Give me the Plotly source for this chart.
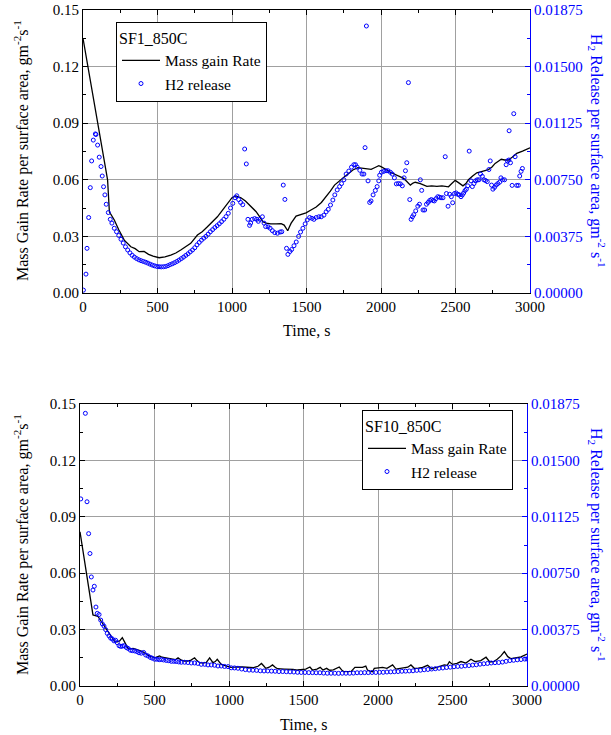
import plotly.graph_objects as go

# ---------------- data: SF1_850C (top) ----------------
sf1_mass_t = [0, 165, 177, 210, 240, 277, 321, 350, 377, 410, 440, 470, 511, 550, 589, 623, 656, 690, 723, 768,
              800, 835, 870, 902, 935, 969, 1000, 1027, 1060, 1090, 1117, 1140, 1162, 1185, 1207, 1229, 1260, 1296,
              1330, 1350, 1363, 1374, 1385, 1397, 1430, 1460, 1497, 1530, 1565, 1600, 1632, 1660, 1688, 1720, 1755,
              1785, 1811, 1845, 1878, 1910, 1934, 1960, 1985, 2000, 2018, 2040, 2063, 2100, 2152, 2175, 2197, 2215,
              2230, 2264, 2308, 2340, 2375, 2409, 2453, 2475, 2498, 2520, 2550, 2570, 2587, 2615, 2643, 2680, 2721,
              2745, 2766, 2790, 2807, 2830, 2855, 2880, 2911, 2950, 2975, 3000]
sf1_mass_v = [0.135, 0.060, 0.043, 0.0387, 0.0335, 0.028, 0.0245, 0.0235, 0.0219, 0.0220, 0.0205, 0.0195, 0.0187,
              0.0192, 0.0201, 0.0212, 0.0228, 0.0245, 0.0263, 0.0307, 0.0325, 0.0351, 0.0378, 0.0404, 0.0438, 0.0475,
              0.0505, 0.0515, 0.0505, 0.0488, 0.0466, 0.0450, 0.0431, 0.0405, 0.0378, 0.0370, 0.0366, 0.0366, 0.0368,
              0.0360, 0.0343, 0.0330, 0.0350, 0.0370, 0.0408, 0.0415, 0.0425, 0.0440, 0.0456, 0.0480, 0.0510, 0.0540,
              0.0572, 0.0595, 0.0616, 0.0635, 0.0652, 0.0664, 0.0660, 0.0655, 0.0655, 0.0665, 0.0675, 0.0670, 0.0660,
              0.0652, 0.0640, 0.0625, 0.0608, 0.0590, 0.0572, 0.0583, 0.0587, 0.0580, 0.0565, 0.0568, 0.0565, 0.0568,
              0.0563, 0.0580, 0.0597, 0.0585, 0.0568, 0.0580, 0.0600, 0.0620, 0.0637, 0.0645, 0.0654, 0.0668, 0.0687,
              0.0700, 0.0709, 0.0705, 0.0705, 0.0720, 0.0740, 0.0752, 0.0760, 0.0770]

sf1_h2_t = [3, 20, 27, 38, 49, 58, 69, 83, 87, 98, 109, 121, 129, 138, 147, 156, 170, 183, 194,
            210, 225, 240, 255, 270, 285, 300, 315, 330, 345, 360, 375, 390, 405, 420, 435, 450, 465, 480, 495,
            510, 525, 540, 555, 570, 585, 600, 615, 630, 645, 660, 675, 690, 705, 720, 735, 750, 765, 780, 795,
            810, 825, 840, 855, 870, 885, 900, 915, 930, 945, 960, 975, 990, 1005, 1020, 1032, 1045, 1058, 1072,
            1085, 1096, 1107, 1118, 1125, 1136, 1152, 1166, 1177, 1188, 1204, 1215, 1226, 1242, 1256, 1271, 1287,
            1305, 1323, 1334, 1344, 1355, 1366, 1375, 1389, 1400, 1416, 1431, 1447, 1460, 1476, 1491, 1505, 1521,
            1536, 1550, 1565, 1583, 1599, 1617, 1632, 1646, 1661, 1677, 1690, 1706, 1722, 1735, 1751, 1766, 1784,
            1802, 1818, 1829, 1840, 1858, 1873, 1885, 1893, 1902, 1913, 1924, 1933, 1947, 1962, 1974, 1985, 1991,
            2003, 2018, 2034, 2047, 2063, 2076, 2090, 2103, 2117, 2130, 2143, 2155, 2164, 2173, 2184, 2193, 2202,
            2211, 2220, 2233, 2247, 2258, 2264, 2273, 2282, 2293, 2305, 2316, 2327, 2338, 2349, 2358, 2369, 2381,
            2392, 2403, 2416, 2431, 2439, 2450, 2461, 2472, 2481, 2493, 2504, 2515, 2526, 2537, 2546, 2555, 2564,
            2573, 2582, 2592, 2604, 2613, 2624, 2635, 2646, 2657, 2668, 2680, 2691, 2702, 2713, 2724, 2733, 2742,
            2751, 2762, 2773, 2784, 2796, 2805, 2816, 2829, 2840, 2849, 2858, 2860, 2869, 2880, 2891, 2900, 2911,
            2922, 2931, 2940, 2949]
sf1_h2_v = [0.00019, 0.00125, 0.00296, 0.00500, 0.00698, 0.00875, 0.01013, 0.01054, 0.01050, 0.00980, 0.00900,
            0.00838, 0.00775, 0.00704, 0.00650, 0.00588, 0.00533, 0.00488, 0.00463,
            0.00429, 0.00406, 0.00381, 0.00356, 0.00331, 0.00306, 0.00285, 0.00266, 0.00250, 0.00238, 0.00228,
            0.00220, 0.00214, 0.00209, 0.00204, 0.00198, 0.00191, 0.00185, 0.00180, 0.00176, 0.00174, 0.00173,
            0.00174, 0.00176, 0.00181, 0.00188, 0.00194, 0.00201, 0.00209, 0.00218, 0.00228, 0.00238, 0.00249,
            0.00260, 0.00273, 0.00285, 0.00300, 0.00319, 0.00335, 0.00350, 0.00363, 0.00375, 0.00390, 0.00406,
            0.00420, 0.00434, 0.00446, 0.00459, 0.00473, 0.00488, 0.00506, 0.00528, 0.00563, 0.00594, 0.00631,
            0.00644, 0.00619, 0.00600, 0.00585,
            0.00954, 0.00855, 0.00488, 0.00448, 0.00463, 0.00488, 0.00493, 0.00488, 0.00475, 0.00488, 0.00505,
            0.00463, 0.00440, 0.00438, 0.00429, 0.00413, 0.00400, 0.00396, 0.00404, 0.00406, 0.00715, 0.00620,
            0.00296, 0.00256, 0.00275, 0.00288, 0.00313, 0.00338, 0.00375, 0.00404, 0.00429, 0.00458, 0.00484,
            0.00500, 0.00495, 0.00488, 0.00500, 0.00505, 0.00505, 0.00516, 0.00538, 0.00554, 0.00583, 0.00616,
            0.00650, 0.00683, 0.00705, 0.00725, 0.00750, 0.00788, 0.00808, 0.00834, 0.00850, 0.00850, 0.00834,
            0.00813, 0.00788, 0.00788, 0.00963, 0.01769, 0.00743, 0.00600, 0.00610, 0.00650, 0.00679, 0.00705,
            0.00743, 0.00780, 0.00800, 0.00806, 0.00810, 0.00810, 0.00800, 0.00788, 0.00763, 0.00723, 0.00725,
            0.00723, 0.00710, 0.00763, 0.00810, 0.00863, 0.01394, 0.00619, 0.00488, 0.00505, 0.00519, 0.00544,
            0.00575, 0.00588, 0.00750, 0.00680, 0.00550, 0.00550, 0.00588, 0.00600, 0.00613, 0.00619, 0.00613,
            0.00610, 0.00625, 0.00638, 0.00635, 0.00631, 0.00631, 0.00903, 0.00659, 0.00575, 0.00654, 0.00638,
            0.00598, 0.00659, 0.00663, 0.00654, 0.00650, 0.00638, 0.00650, 0.00663, 0.00679, 0.00688, 0.00710,
            0.00940, 0.00743, 0.00705, 0.00725, 0.00743, 0.00750, 0.00750, 0.00788, 0.00773, 0.00750, 0.00745,
            0.00738, 0.00818, 0.00875, 0.00715, 0.00688, 0.00700, 0.00715, 0.00725, 0.00734, 0.00763, 0.00750,
            0.00750, 0.00850, 0.00875, 0.00881, 0.01075, 0.00863, 0.00713, 0.01188, 0.00903, 0.00713, 0.00713,
            0.00775, 0.00806, 0.00825]

# ---------------- data: SF10_850C (bottom) ----------------
sf10_mass_t = [0, 87, 121, 154, 188, 233, 250, 266, 284, 300, 322, 340, 356, 378, 400, 420, 434, 467, 501, 520,
               534, 550, 568, 590, 613, 640, 658, 680, 700, 724, 745, 769, 785, 803, 825, 848, 870, 892, 908, 921,
               948, 970, 993, 1012, 1037, 1056, 1090, 1135, 1165, 1195, 1218, 1235, 1247, 1270, 1292, 1310, 1325,
               1370, 1404, 1430, 1460, 1490, 1515, 1543, 1560, 1590, 1612, 1630, 1655, 1675, 1700, 1740, 1760, 1773,
               1800, 1820, 1845, 1870, 1896, 1918, 1929, 1950, 1964, 1975, 2000, 2031, 2060, 2098, 2120, 2150, 2177,
               2200, 2221, 2245, 2270, 2299, 2333, 2360, 2400, 2445, 2465, 2479, 2500, 2530, 2557, 2590, 2624, 2650,
               2690, 2725, 2750, 2780, 2800, 2825, 2848, 2871, 2893, 2927, 2960, 3000]
sf10_mass_v = [0.082, 0.0378, 0.0370, 0.0330, 0.0290, 0.0236, 0.0235, 0.0240, 0.0257, 0.0234, 0.0200, 0.0198,
               0.0200, 0.0195, 0.0190, 0.0183, 0.0175, 0.0160, 0.0150, 0.0155, 0.0160, 0.0153, 0.0150, 0.0147,
               0.0145, 0.0140, 0.0150, 0.0137, 0.0133, 0.0133, 0.0138, 0.0150, 0.0135, 0.0124, 0.0122, 0.0126,
               0.0150, 0.0124, 0.0130, 0.0142, 0.0115, 0.0110, 0.0106, 0.0099, 0.0100, 0.0102, 0.0101, 0.0099,
               0.0098, 0.0105, 0.0120, 0.0105, 0.0094, 0.0100, 0.0112, 0.0100, 0.0092, 0.0090, 0.0091, 0.0088,
               0.0085, 0.0087, 0.0090, 0.0101, 0.0085, 0.0090, 0.0099, 0.0085, 0.0094, 0.0084, 0.0086, 0.0101,
               0.0082, 0.0076, 0.0076, 0.0078, 0.0099, 0.0100, 0.0099, 0.0106, 0.0085, 0.0078, 0.0076, 0.0094,
               0.0097, 0.0099, 0.0094, 0.0112, 0.0090, 0.0094, 0.0095, 0.0100, 0.0112, 0.0093, 0.0095, 0.0099,
               0.0110, 0.0092, 0.0101, 0.0112, 0.0110, 0.0129, 0.0115, 0.0120, 0.0130, 0.0122, 0.0142, 0.0130,
               0.0135, 0.0153, 0.0128, 0.0131, 0.0142, 0.0160, 0.0183, 0.0156, 0.0145, 0.0152, 0.0155, 0.0170]

sf10_h2_t = [5, 36, 47, 58, 67, 76, 87, 96, 107, 116, 128, 139, 150, 161, 172, 183, 195, 206, 217, 228, 239, 250,
             262, 273, 284, 295, 311, 322, 338, 351, 367, 382, 396, 411, 427, 441, 456, 472, 485, 501, 516, 532,
             547, 561, 579, 596, 613, 630, 646, 663, 680, 702, 724, 747, 769, 791, 814, 837, 859, 881, 903, 926,
             948, 970, 993, 1015, 1037, 1060, 1085, 1110, 1135, 1160, 1185, 1210, 1235, 1260, 1285, 1310, 1335,
             1360, 1385, 1410, 1435, 1460, 1485, 1510, 1535, 1560, 1585, 1610, 1635, 1660, 1685, 1710, 1735, 1760,
             1785, 1810, 1835, 1860, 1885, 1910, 1935, 1960, 1985, 2010, 2035, 2060, 2085, 2110, 2135, 2160, 2185,
             2210, 2235, 2260, 2285, 2310, 2335, 2360, 2385, 2410, 2435, 2460, 2485, 2510, 2535, 2560, 2585, 2610,
             2635, 2660, 2685, 2710, 2735, 2760, 2785, 2810, 2835, 2860, 2885, 2910, 2935, 2960, 2985, 3000]
sf10_h2_v = [0.01244, 0.01813, 0.01225, 0.01013, 0.00881, 0.00725, 0.00638, 0.00663, 0.00525, 0.00483, 0.00475,
             0.00438, 0.00413, 0.00398, 0.00375, 0.00350, 0.00333, 0.00318, 0.00313, 0.00300, 0.00304, 0.00288,
             0.00268, 0.00263, 0.00265, 0.00268, 0.00256, 0.00250, 0.00238, 0.00235, 0.00233, 0.00229, 0.00221,
             0.00218, 0.00223, 0.00206, 0.00200, 0.00190, 0.00185, 0.00178, 0.00178, 0.00175, 0.00176, 0.00173,
             0.00170, 0.00168, 0.00164, 0.00164, 0.00163, 0.00160, 0.00158, 0.00158, 0.00156, 0.00153, 0.00153,
             0.00150, 0.00144, 0.00144, 0.00140, 0.00140, 0.00138, 0.00133, 0.00133, 0.00130, 0.00129, 0.00121,
             0.00120, 0.00118, 0.00113, 0.00109, 0.00106, 0.00105, 0.00104, 0.00101, 0.00100, 0.00100, 0.00099,
             0.00098, 0.00096, 0.00096, 0.00095, 0.00094, 0.00093, 0.00091, 0.00090, 0.00090, 0.00089, 0.00089,
             0.00088, 0.00088, 0.00086, 0.00085, 0.00085, 0.00085, 0.00084, 0.00085, 0.00085, 0.00085, 0.00086,
             0.00088, 0.00088, 0.00089, 0.00089, 0.00090, 0.00090, 0.00091, 0.00091, 0.00093, 0.00094, 0.00095,
             0.00096, 0.00098, 0.00099, 0.00100, 0.00101, 0.00104, 0.00105, 0.00108, 0.00110, 0.00113, 0.00115,
             0.00118, 0.00120, 0.00123, 0.00125, 0.00128, 0.00130, 0.00131, 0.00134, 0.00136, 0.00139, 0.00141,
             0.00145, 0.00148, 0.00150, 0.00153, 0.00155, 0.00156, 0.00159, 0.00164, 0.00169, 0.00171, 0.00174,
             0.00176, 0.00179, 0.00180]

# ---------------- styling ----------------
W, H = 611, 735
FONT = "Liberation Serif"
BLUE = "#0000ff"
GRID = "#a0a0a0"


def px_x(p):
    return p / W


def px_y(p):
    return 1 - p / H


fig = go.Figure()

fig.add_trace(go.Scatter(x=sf1_mass_t, y=sf1_mass_v, mode="lines", name="Mass gain Rate",
                         line=dict(color="black", width=1.3), xaxis="x", yaxis="y", legend="legend"))
fig.add_trace(go.Scatter(x=sf1_h2_t, y=sf1_h2_v, mode="markers", name="H2 release",
                         marker=dict(symbol="circle-open", size=4, color=BLUE, line=dict(width=1)),
                         xaxis="x", yaxis="y2", legend="legend"))
fig.add_trace(go.Scatter(x=sf10_mass_t, y=sf10_mass_v, mode="lines", name="Mass gain Rate",
                         line=dict(color="black", width=1.3), xaxis="x2", yaxis="y3", legend="legend2"))
fig.add_trace(go.Scatter(x=sf10_h2_t, y=sf10_h2_v, mode="markers", name="H2 release",
                         marker=dict(symbol="circle-open", size=4, color=BLUE, line=dict(width=1)),
                         xaxis="x2", yaxis="y4", legend="legend2"))

tickfont = dict(family=FONT, size=15, color="black")


def xaxis_cfg(dom, anchor):
    return dict(domain=dom, anchor=anchor, range=[0, 3000], dtick=500, tick0=0,
                ticks="inside", ticklen=5, tickcolor="black",
                minor=dict(dtick=250, tick0=0, ticks="inside", ticklen=3, tickcolor="black", showgrid=False),
                showline=True, linecolor="black", linewidth=1, mirror="ticks",
                showgrid=True, gridcolor=GRID, gridwidth=1, zeroline=False,
                tickfont=tickfont, automargin=False)


def yleft_cfg(dom, anchor):
    return dict(domain=dom, anchor=anchor, range=[0, 0.1500001], dtick=0.03, tick0=0, tickformat=".2f",
                ticks="inside", ticklen=5, tickcolor="black",
                minor=dict(dtick=0.015, tick0=0, ticks="inside", ticklen=3, tickcolor="black", showgrid=False),
                showline=True, linecolor="black", linewidth=1, mirror=False,
                showgrid=True, gridcolor=GRID, gridwidth=1, zeroline=False,
                tickfont=tickfont, automargin=False)


def yright_cfg(over, anchor):
    return dict(overlaying=over, anchor=anchor, side="right", range=[0, 0.018750001], dtick=0.00375, tick0=0,
                tickformat=".5f", ticks="inside", ticklen=5, tickcolor=BLUE,
                minor=dict(dtick=0.001875, tick0=0, ticks="inside", ticklen=3, tickcolor=BLUE, showgrid=False),
                showline=True, linecolor=BLUE, linewidth=1, showgrid=False, zeroline=False,
                tickfont=dict(family=FONT, size=15, color=BLUE), automargin=False)


def legend_cfg(x, y, title):
    return dict(bgcolor="white", bordercolor="black", borderwidth=1,
                font=dict(family=FONT, size=15.5, color="black"),
                xanchor="left", yanchor="top", tracegroupgap=0, itemwidth=38,
                x=px_x(x), y=px_y(y),
                title=dict(text=title, font=dict(family=FONT, size=16, color="black")))


left_title = "Mass Gain Rate per surface area, gm<sup>-2</sup>s<sup>-1</sup>"
right_title = "H<sub>2</sub> Release per surface area, gm<sup>-2</sup> s<sup>-1</sup>"

annotations = []
for (ycen, xl, xr, xc, ytime) in [(151, 21, 597, 306, 330), (545, 21, 597, 303, 724)]:
    annotations.append(dict(text=left_title, x=px_x(xl), y=px_y(ycen), xref="paper", yref="paper",
                            textangle=-90, showarrow=False, xanchor="center", yanchor="middle",
                            font=dict(family=FONT, size=16, color="black")))
    annotations.append(dict(text=right_title, x=px_x(xr), y=px_y(ycen), xref="paper", yref="paper",
                            textangle=90, showarrow=False, xanchor="center", yanchor="middle",
                            font=dict(family=FONT, size=16, color=BLUE)))
    annotations.append(dict(text="Time, s", x=px_x(xc), y=px_y(ytime), xref="paper", yref="paper",
                            showarrow=False, xanchor="center", yanchor="middle",
                            font=dict(family=FONT, size=16, color="black")))

fig.update_layout(
    width=W, height=H,
    margin=dict(l=0, r=0, t=0, b=0),
    paper_bgcolor="white", plot_bgcolor="white",
    showlegend=True,
    xaxis=xaxis_cfg([px_x(83), px_x(530)], "y"),
    yaxis=yleft_cfg([px_y(293), px_y(10)], "x"),
    yaxis2=yright_cfg("y", "x"),
    xaxis2=xaxis_cfg([px_x(80), px_x(527)], "y3"),
    yaxis3=yleft_cfg([px_y(686), px_y(404)], "x2"),
    yaxis4=yright_cfg("y3", "x2"),
    legend=legend_cfg(116, 22, "SF1_850C"),
    legend2=legend_cfg(362, 410, "SF10_850C"),
    annotations=annotations,
)

fig.write_html("out.html")
